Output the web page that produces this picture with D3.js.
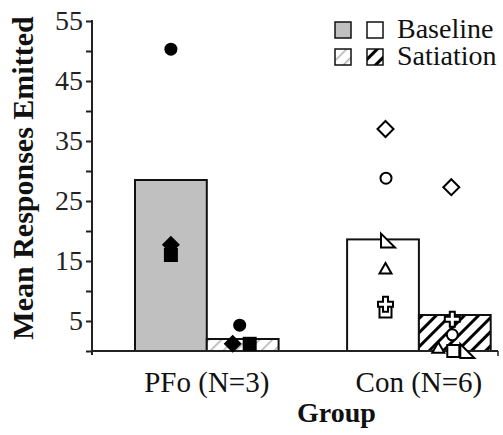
<!DOCTYPE html>
<html>
<head>
<meta charset="utf-8">
<script src="https://cdn.jsdelivr.net/npm/d3@7"></script>
<style>
  body { margin: 0; background: #fff; }
</style>
</head>
<body>
<svg id="chart" width="503" height="435"></svg>
<script>
const FONT = "'Liberation Serif', 'Times New Roman', serif";

// groups and conditions
const groups = ["PFo (N=3)", "Con (N=6)"];
const conditions = ["Baseline", "Satiation"];

// bar heights (mean responses)
const pfoMeans = [28.5, 2];
const conMeans = [18.6, 6];

// individual subjects: symbol, baseline value, satiation value
const pfoSymbols = ["circle", "diamond", "square"];
const pfoBaseline = [50.3, 17.7, 16];
const pfoSatiation = [4.3, 1.2, 1.2];

const conSymbols = ["square", "diamond", "circle", "rightTri", "triangle", "cross"];
const conBaseline = [6.6, 37, 28.8, 18.4, 13.5, 7.8];
const conSatiation = [0, 27.3, 2.7, 0, 0.3, 5.3];

const yMajor = [5, 15, 25, 35, 45, 55];
const yMinor = [0, 10, 20, 30, 40, 50];

// horizontal nudges so overlapping symbols stay visible (px)
const nudge = {
  "PFo (N=3)": { Baseline: [0, 0, 0], Satiation: [-3, -10, 7] },
  "Con (N=6)": { Baseline: [2.5, 2.5, 3, 5, 2.5, 2.5], Satiation: [-1.5, -3.5, -2.5, 12.5, -16.5, -2.5] }
};

const svg = d3.select("#chart");

const y = d3.scaleLinear().domain([0, 55]).range([351, 21]);
const x0 = d3.scaleBand().domain(groups).range([135, 490.7]).paddingInner(0.323);
const x1 = d3.scaleBand().domain(conditions).range([0, x0.bandwidth()]);

// hatch patterns
const defs = svg.append("defs");
defs.append("pattern")
  .attr("id", "hatchLight")
  .attr("patternUnits", "userSpaceOnUse")
  .attr("width", 9).attr("height", 9)
  .attr("patternTransform", "rotate(45)")
  .call(p => {
    p.append("rect").attr("width", 9).attr("height", 9).attr("fill", "#fff");
    p.append("line").attr("x1", 0).attr("y1", 0).attr("x2", 0).attr("y2", 9)
      .attr("stroke", "#b0b0b0").attr("stroke-width", 3);
  });
defs.append("pattern")
  .attr("id", "hatchDark")
  .attr("patternUnits", "userSpaceOnUse")
  .attr("width", 10).attr("height", 10)
  .attr("patternTransform", "rotate(45)")
  .call(p => {
    p.append("rect").attr("width", 10).attr("height", 10).attr("fill", "#fff");
    p.append("line").attr("x1", 0).attr("y1", 0).attr("x2", 0).attr("y2", 10)
      .attr("stroke", "#000").attr("stroke-width", 6);
  });

const fills = {
  "PFo (N=3)": { Baseline: "#c0c0c0", Satiation: "url(#hatchLight)" },
  "Con (N=6)": { Baseline: "#fff", Satiation: "url(#hatchDark)" }
};

// bars
const barData = [];
groups.forEach((g, gi) => {
  const means = gi === 0 ? pfoMeans : conMeans;
  conditions.forEach((c, ci) => barData.push({ group: g, cond: c, value: means[ci] }));
});

svg.append("g").selectAll("rect")
  .data(barData)
  .join("rect")
  .attr("x", d => x0(d.group) + x1(d.cond))
  .attr("y", d => y(d.value))
  .attr("width", x1.bandwidth())
  .attr("height", d => y(0) - y(d.value))
  .attr("fill", d => fills[d.group][d.cond])
  .attr("stroke", "#111")
  .attr("stroke-width", 2);

// axes
const yAxisMajor = d3.axisLeft(y).tickValues(yMajor).tickSize(6).tickPadding(3).tickSizeOuter(0);
const yAxisMinor = d3.axisLeft(y).tickValues(yMinor).tickSize(6).tickFormat("").tickSizeOuter(0);

const yg = svg.append("g").attr("transform", "translate(92,0)");
yg.call(yAxisMajor);
yg.append("g").call(yAxisMinor);
yg.selectAll(".domain").remove();
yg.attr("font-family", FONT);
yg.selectAll("line").attr("stroke", "#222").attr("stroke-width", 2);
yg.selectAll("text").attr("font-size", 28).attr("font-family", FONT).attr("fill", "#222");

svg.append("line")
  .attr("x1", 92).attr("x2", 92)
  .attr("y1", y(55) - 1).attr("y2", y(0) + 4)
  .attr("stroke", "#222").attr("stroke-width", 2);

svg.append("line")
  .attr("x1", 91).attr("x2", 498)
  .attr("y1", y(0)).attr("y2", y(0))
  .attr("stroke", "#222").attr("stroke-width", 2);
svg.append("line")
  .attr("x1", 498).attr("x2", 498)
  .attr("y1", y(0)).attr("y2", y(0) + 5)
  .attr("stroke", "#222").attr("stroke-width", 1.5);

const xg = svg.append("g").attr("transform", `translate(0,${y(0)})`)
  .call(d3.axisBottom(x0).tickSize(0).tickPadding(20));
xg.select(".domain").remove();
xg.attr("font-family", FONT);
xg.selectAll("text").attr("font-size", 29).attr("font-family", FONT).attr("fill", "#111");

// axis titles
svg.append("text")
  .attr("transform", "translate(33,178) rotate(-90)")
  .attr("text-anchor", "middle")
  .attr("font-family", FONT)
  .attr("font-weight", "bold")
  .attr("font-size", 30)
  .attr("fill", "#111")
  .text("Mean Responses Emitted");

svg.append("text")
  .attr("x", 336.5).attr("y", 422)
  .attr("text-anchor", "middle")
  .attr("font-family", FONT)
  .attr("font-weight", "bold")
  .attr("font-size", 28)
  .attr("fill", "#111")
  .text("Group");

// symbols
const symbolPath = {
  circle: s => d3.symbol(d3.symbolCircle, s * s * Math.PI / 4)(),
  square: s => d3.symbol(d3.symbolSquare, s * s)(),
  cross: s => d3.symbol(d3.symbolCross, s * s * 5 / 9)(),
  triangle: s => d3.symbol(d3.symbolTriangle, s * s * Math.sqrt(3) / 4)(),
  diamond: s => { const h = s / 2; return `M0,${-h}L${h},0L0,${h}L${-h},0Z`; },
  rightTri: s => { const h = s / 2; return `M${-h},${-h}L${h},${h}L${-h},${h}Z`; }
};
const symbolSize = { circle: 13, square: 14, cross: 17, triangle: 14, diamond: 18, rightTri: 16 };

const pointData = [];
[[groups[0], pfoSymbols, pfoBaseline, pfoSatiation], [groups[1], conSymbols, conBaseline, conSatiation]]
  .forEach(([g, syms, base, sat]) => {
    [base, sat].forEach((vals, ci) => {
      const c = conditions[ci];
      vals.forEach((v, i) => pointData.push({ group: g, cond: c, symbol: syms[i], value: v, dx: nudge[g][c][i] }));
    });
  });

svg.append("g").selectAll("path")
  .data(pointData)
  .join("path")
  .attr("transform", d => `translate(${x0(d.group) + x1(d.cond) + x1.bandwidth() / 2 + d.dx},${y(d.value)})`)
  .attr("d", d => symbolPath[d.symbol](symbolSize[d.symbol] - (d.group === groups[1] ? 2 : 0)))
  .attr("fill", d => d.group === groups[0] ? "#000" : "#fff")
  .attr("stroke", "#000")
  .attr("stroke-width", d => d.group === groups[0] ? 0 : 2);

// legend
const legend = svg.append("g");
const legendRows = [
  { label: "Baseline", swatches: [fills[groups[0]].Baseline, fills[groups[1]].Baseline] },
  { label: "Satiation", swatches: [fills[groups[0]].Satiation, fills[groups[1]].Satiation] }
];
legendRows.forEach((row, ri) => {
  const top = 22 + ri * 27;
  row.swatches.forEach((f, si) => {
    legend.append("rect")
      .attr("x", 335 + si * 32).attr("y", top)
      .attr("width", 16).attr("height", 16)
      .attr("fill", f)
      .attr("stroke", "#111").attr("stroke-width", 1.5);
  });
  legend.append("text")
    .attr("x", 397).attr("y", top + 16)
    .attr("font-family", FONT)
    .attr("font-size", 28)
    .attr("fill", "#111")
    .text(row.label);
});
</script>
</body>
</html>
